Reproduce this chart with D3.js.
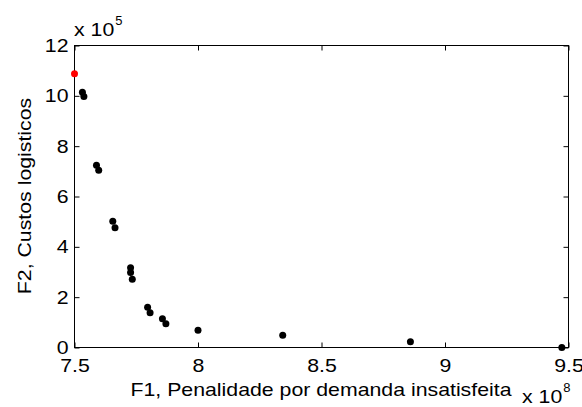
<!DOCTYPE html>
<html>
<head>
<meta charset="utf-8">
<script src="https://cdn.jsdelivr.net/npm/d3@7"></script>
<style>
  body { margin: 0; background: #fff; }
  text { font-family: "Liberation Sans", Arial, sans-serif; fill: #000; }
</style>
</head>
<body>
<div id="chart"></div>
<script>
// F1 in units of 1e8, F2 in units of 1e5
const f1 = [7.532, 7.538, 7.589, 7.598, 7.655, 7.664, 7.727, 7.727, 7.734, 7.796, 7.806, 7.856, 7.870, 8.0, 8.343, 8.860, 9.473];
const f2 = [10.14, 9.97, 7.24, 7.04, 5.02, 4.76, 3.17, 2.98, 2.71, 1.60, 1.38, 1.14, 0.94, 0.69, 0.49, 0.23, 0.0];
const highlightF1 = [7.5];
const highlightF2 = [10.88];
const xTicks = [7.5, 8, 8.5, 9, 9.5];
const yTicks = [0, 2, 4, 6, 8, 10, 12];
const xLabel = 'F1, Penalidade por demanda insatisfeita';
const yLabel = 'F2, Custos logisticos';

const width = 582, height = 407;
const margin = { top: 45, right: 14, bottom: 60, left: 74 };
const innerW = width - margin.left - margin.right;
const innerH = height - margin.top - margin.bottom;
const fontSize = 18.5;

const svg = d3.select('#chart').append('svg')
  .attr('width', width)
  .attr('height', height);

const x = d3.scaleLinear().domain([7.5, 9.5]).range([0, innerW]);
const y = d3.scaleLinear().domain([0, 12]).range([innerH, 0]);

// x label first, to find how much wider the original glyphs are
const xl = svg.append('text')
  .attr('x', margin.left + innerW / 2)
  .attr('y', 396)
  .attr('text-anchor', 'middle')
  .attr('font-size', fontSize)
  .text(xLabel);
const stretch = 381 / xl.node().getComputedTextLength();

const widen = sel => sel.each(function () {
  const len = this.getComputedTextLength();
  if (len > 0) d3.select(this).attr('textLength', len * stretch).attr('lengthAdjust', 'spacingAndGlyphs');
});
xl.call(widen);

const g = svg.append('g')
  .attr('transform', `translate(${margin.left + 0.5},${margin.top + 0.5})`);

// ticks on all four sides, pointing inward
const tickLen = 5;
const styleAxis = sel => {
  sel.select('.domain').remove();
  sel.selectAll('line').attr('stroke', '#000');
  sel.selectAll('text')
    .attr('font-size', fontSize)
    .attr('font-family', '"Liberation Sans", Arial, sans-serif')
    .call(widen);
};

g.append('g')
  .attr('transform', `translate(0,${innerH})`)
  .call(d3.axisBottom(x).tickValues(xTicks).tickSize(-tickLen).tickPadding(11).tickFormat(d3.format('')))
  .call(styleAxis);
g.append('g')
  .call(d3.axisTop(x).tickValues(xTicks).tickSize(-tickLen).tickFormat(''))
  .call(styleAxis);
g.append('g')
  .call(d3.axisLeft(y).tickValues(yTicks).tickSize(-tickLen).tickPadding(6))
  .call(styleAxis);
g.append('g')
  .attr('transform', `translate(${innerW},0)`)
  .call(d3.axisRight(y).tickValues(yTicks).tickSize(-tickLen).tickFormat(''))
  .call(styleAxis);

g.append('rect')
  .attr('width', innerW)
  .attr('height', innerH)
  .attr('fill', 'none')
  .attr('stroke', '#000')
  .attr('stroke-width', 1);

// points
g.append('g')
  .selectAll('circle')
  .data(f1.map((v, i) => [v, f2[i]]))
  .join('circle')
  .attr('cx', d => x(d[0]))
  .attr('cy', d => y(d[1]))
  .attr('r', 3.5)
  .attr('fill', '#000');

g.append('g')
  .selectAll('circle')
  .data(highlightF1.map((v, i) => [v, highlightF2[i]]))
  .join('circle')
  .attr('cx', d => x(d[0]))
  .attr('cy', d => y(d[1]))
  .attr('r', 3.5)
  .attr('fill', '#f00');

const yl = svg.append('text')
  .attr('transform', `translate(31,${margin.top + innerH / 2}) rotate(-90)`)
  .attr('text-anchor', 'middle')
  .attr('font-size', fontSize)
  .text(yLabel)
  .call(widen);

// exponent labels
const expY = svg.append('text').attr('x', 74).attr('y', 36).attr('font-size', fontSize);
expY.append('tspan').text('x 10').call(widen);
expY.append('tspan').attr('font-size', 13).attr('dy', -11).attr('dx', 1).text('5');

const expX = svg.append('text').attr('x', 522).attr('y', 403).attr('font-size', fontSize);
expX.append('tspan').text('x 10').call(widen);
expX.append('tspan').attr('font-size', 13).attr('dy', -11).attr('dx', 1).text('8');
</script>
</body>
</html>
